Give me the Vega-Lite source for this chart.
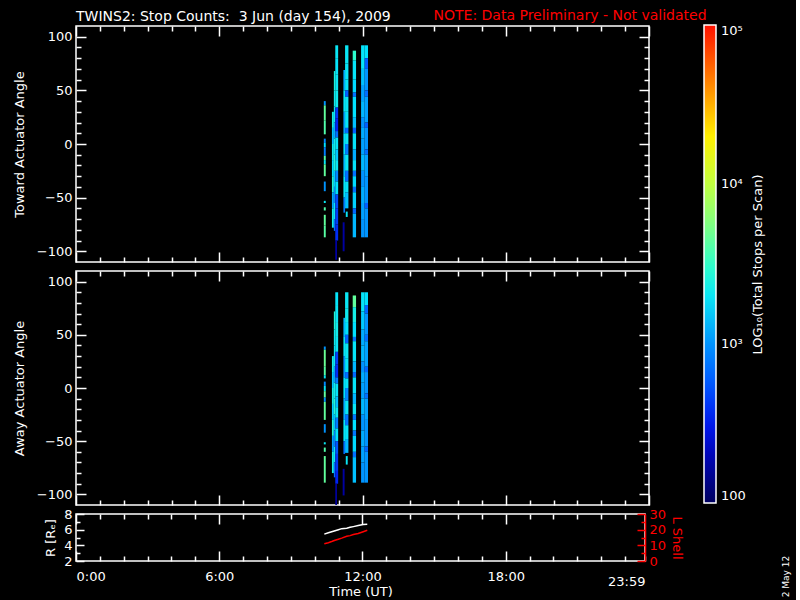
{
  "$schema": "https://vega.github.io/schema/vega-lite/v6.json",
  "background": "black",
  "padding": {"left": 12, "top": 7, "right": 5, "bottom": 2},
  "config": {
    "view": {"stroke": "white", "strokeWidth": 1.5},
    "axis": {
      "domain": false, "grid": false,
      "tickColor": "white", "tickWidth": 1.5,
      "labelColor": "white", "labelFont": "DejaVu Sans", "labelFontSize": 13,
      "titleColor": "white", "titleFont": "DejaVu Sans", "titleFontSize": 13, "titleFontWeight": "normal",
      "labelOverlap": false
    },
    "title": {"color": "white", "font": "DejaVu Sans", "fontSize": 14, "fontWeight": "normal"}
  },
  "datasets": {
    "toward": [
      {"t0":10.38,"t1":10.46,"a0":40,"a1":36,"v":1000},{"t0":10.38,"t1":10.46,"a0":36,"a1":22,"v":4500},{"t0":10.38,"t1":10.46,"a0":22,"a1":9,"v":4000},{"t0":10.38,"t1":10.46,"a0":5,"a1":1,"v":900},{"t0":10.38,"t1":10.46,"a0":1,"a1":-3,"v":1800},{"t0":10.38,"t1":10.46,"a0":-3,"a1":-11,"v":800},{"t0":10.38,"t1":10.46,"a0":-11,"a1":-15,"v":4200},{"t0":10.38,"t1":10.46,"a0":-15,"a1":-19,"v":2000},{"t0":10.38,"t1":10.46,"a0":-19,"a1":-30,"v":4500},{"t0":10.38,"t1":10.46,"a0":-35,"a1":-44,"v":1000},{"t0":10.38,"t1":10.46,"a0":-53,"a1":-55,"v":2000},{"t0":10.38,"t1":10.46,"a0":-59,"a1":-62,"v":4000},{"t0":10.38,"t1":10.46,"a0":-66,"a1":-76,"v":4500},{"t0":10.38,"t1":10.46,"a0":-76,"a1":-87,"v":4200},
      {"t0":10.72,"t1":10.80,"a0":30,"a1":15,"v":2300},{"t0":10.72,"t1":10.80,"a0":15,"a1":0,"v":1400},{"t0":10.72,"t1":10.80,"a0":0,"a1":-15,"v":2100},{"t0":10.72,"t1":10.80,"a0":-15,"a1":-30,"v":1800},{"t0":10.72,"t1":10.80,"a0":-30,"a1":-45,"v":2500},{"t0":10.72,"t1":10.80,"a0":-45,"a1":-60,"v":1200},{"t0":10.72,"t1":10.80,"a0":-60,"a1":-78,"v":2200},
      {"t0":10.80,"t1":10.86,"a0":68,"a1":50,"v":2500},{"t0":10.80,"t1":10.86,"a0":50,"a1":35,"v":2200},{"t0":10.80,"t1":10.86,"a0":35,"a1":20,"v":2000},{"t0":10.80,"t1":10.86,"a0":20,"a1":5,"v":1200},{"t0":10.80,"t1":10.86,"a0":5,"a1":-10,"v":2200},{"t0":10.80,"t1":10.86,"a0":-10,"a1":-25,"v":2600},{"t0":10.80,"t1":10.86,"a0":-25,"a1":-40,"v":1500},{"t0":10.80,"t1":10.86,"a0":-40,"a1":-55,"v":900},{"t0":10.80,"t1":10.86,"a0":-55,"a1":-70,"v":2000},{"t0":10.80,"t1":10.86,"a0":-70,"a1":-81,"v":700},
      {"t0":10.86,"t1":10.98,"a0":92,"a1":80,"v":2000},{"t0":10.86,"t1":10.98,"a0":80,"a1":65,"v":1900},{"t0":10.86,"t1":10.98,"a0":65,"a1":50,"v":2000},{"t0":10.86,"t1":10.98,"a0":50,"a1":34,"v":2100},{"t0":10.86,"t1":10.98,"a0":34,"a1":24,"v":420},{"t0":10.86,"t1":10.98,"a0":24,"a1":12,"v":350},{"t0":10.86,"t1":10.98,"a0":12,"a1":6,"v":700},{"t0":10.86,"t1":10.98,"a0":6,"a1":-5,"v":1900},{"t0":10.86,"t1":10.98,"a0":-5,"a1":-15,"v":1500},{"t0":10.86,"t1":10.98,"a0":-15,"a1":-25,"v":2000},{"t0":10.86,"t1":10.98,"a0":-25,"a1":-35,"v":900},{"t0":10.86,"t1":10.98,"a0":-35,"a1":-47,"v":1800},{"t0":10.86,"t1":10.98,"a0":-47,"a1":-60,"v":500},{"t0":10.86,"t1":10.98,"a0":-60,"a1":-75,"v":450},{"t0":10.86,"t1":10.98,"a0":-75,"a1":-90,"v":380},
      {"t0":10.86,"t1":10.93,"a0":-90,"a1":-108,"v":180},
      {"t0":11.17,"t1":11.25,"a0":-73,"a1":-100,"v":170},
      {"t0":11.20,"t1":11.27,"a0":69,"a1":50,"v":1200},{"t0":11.20,"t1":11.27,"a0":50,"a1":30,"v":1900},{"t0":11.20,"t1":11.27,"a0":30,"a1":10,"v":1100},{"t0":11.20,"t1":11.27,"a0":10,"a1":-10,"v":1800},{"t0":11.20,"t1":11.27,"a0":-10,"a1":-30,"v":1300},{"t0":11.20,"t1":11.27,"a0":-30,"a1":-50,"v":1900},{"t0":11.20,"t1":11.27,"a0":-50,"a1":-64,"v":800},
      {"t0":11.27,"t1":11.41,"a0":92,"a1":75,"v":2000},{"t0":11.27,"t1":11.41,"a0":75,"a1":60,"v":1950},{"t0":11.27,"t1":11.41,"a0":60,"a1":50,"v":1900},{"t0":11.27,"t1":11.41,"a0":50,"a1":44,"v":600},{"t0":11.27,"t1":11.41,"a0":44,"a1":30,"v":2000},{"t0":11.27,"t1":11.41,"a0":30,"a1":15,"v":1900},{"t0":11.27,"t1":11.41,"a0":15,"a1":10,"v":700},{"t0":11.27,"t1":11.41,"a0":10,"a1":0,"v":2000},{"t0":11.27,"t1":11.41,"a0":0,"a1":-10,"v":800},{"t0":11.27,"t1":11.41,"a0":-10,"a1":-25,"v":2000},{"t0":11.27,"t1":11.41,"a0":-25,"a1":-35,"v":700},{"t0":11.27,"t1":11.41,"a0":-35,"a1":-45,"v":1900},{"t0":11.27,"t1":11.41,"a0":-45,"a1":-60,"v":1400},
      {"t0":11.30,"t1":11.38,"a0":-63,"a1":-68,"v":2000},
      {"t0":11.59,"t1":11.73,"a0":87,"a1":78,"v":3000},{"t0":11.59,"t1":11.73,"a0":78,"a1":60,"v":1900},{"t0":11.59,"t1":11.73,"a0":60,"a1":48,"v":1700},{"t0":11.59,"t1":11.73,"a0":48,"a1":44,"v":700},{"t0":11.59,"t1":11.73,"a0":44,"a1":25,"v":1800},{"t0":11.59,"t1":11.73,"a0":25,"a1":15,"v":1400},{"t0":11.59,"t1":11.73,"a0":15,"a1":10,"v":600},{"t0":11.59,"t1":11.73,"a0":10,"a1":-5,"v":1900},{"t0":11.59,"t1":11.73,"a0":-5,"a1":-15,"v":1200},{"t0":11.59,"t1":11.73,"a0":-15,"a1":-25,"v":1900},{"t0":11.59,"t1":11.73,"a0":-25,"a1":-30,"v":700},{"t0":11.59,"t1":11.73,"a0":-30,"a1":-40,"v":1700},{"t0":11.59,"t1":11.73,"a0":-40,"a1":-45,"v":700},{"t0":11.59,"t1":11.73,"a0":-45,"a1":-60,"v":1600},{"t0":11.59,"t1":11.73,"a0":-60,"a1":-65,"v":650},{"t0":11.59,"t1":11.73,"a0":-65,"a1":-87,"v":1300},
      {"t0":11.94,"t1":12.09,"a0":92,"a1":70,"v":1900},{"t0":11.94,"t1":12.09,"a0":70,"a1":55,"v":1400},{"t0":11.94,"t1":12.09,"a0":55,"a1":40,"v":1100},{"t0":11.94,"t1":12.09,"a0":40,"a1":25,"v":1300},{"t0":11.94,"t1":12.09,"a0":25,"a1":15,"v":1000},{"t0":11.94,"t1":12.09,"a0":15,"a1":5,"v":1200},{"t0":11.94,"t1":12.09,"a0":5,"a1":-10,"v":1100},{"t0":11.94,"t1":12.09,"a0":-10,"a1":-25,"v":1300},{"t0":11.94,"t1":12.09,"a0":-25,"a1":-40,"v":1000},{"t0":11.94,"t1":12.09,"a0":-40,"a1":-55,"v":1200},{"t0":11.94,"t1":12.09,"a0":-55,"a1":-70,"v":1100},{"t0":11.94,"t1":12.09,"a0":-70,"a1":-87,"v":1000},
      {"t0":12.09,"t1":12.23,"a0":92,"a1":80,"v":1800},{"t0":12.09,"t1":12.23,"a0":80,"a1":70,"v":600},{"t0":12.09,"t1":12.23,"a0":70,"a1":50,"v":1000},{"t0":12.09,"t1":12.23,"a0":50,"a1":44,"v":700},{"t0":12.09,"t1":12.23,"a0":44,"a1":20,"v":1100},{"t0":12.09,"t1":12.23,"a0":20,"a1":15,"v":600},{"t0":12.09,"t1":12.23,"a0":15,"a1":-5,"v":1000},{"t0":12.09,"t1":12.23,"a0":-5,"a1":-10,"v":700},{"t0":12.09,"t1":12.23,"a0":-10,"a1":-30,"v":1100},{"t0":12.09,"t1":12.23,"a0":-30,"a1":-55,"v":1000},{"t0":12.09,"t1":12.23,"a0":-55,"a1":-60,"v":600},{"t0":12.09,"t1":12.23,"a0":-60,"a1":-87,"v":1000}
    ],
    "away": [
      {"t0":10.38,"t1":10.46,"a0":39,"a1":36,"v":1000},{"t0":10.38,"t1":10.46,"a0":36,"a1":20,"v":4800},{"t0":10.38,"t1":10.46,"a0":20,"a1":12,"v":4200},{"t0":10.38,"t1":10.46,"a0":12,"a1":9,"v":2000},{"t0":10.38,"t1":10.46,"a0":6,"a1":2,"v":900},{"t0":10.38,"t1":10.46,"a0":2,"a1":-3,"v":2000},{"t0":10.38,"t1":10.46,"a0":-3,"a1":-9,"v":4500},{"t0":10.38,"t1":10.46,"a0":-9,"a1":-13,"v":1000},{"t0":10.38,"t1":10.46,"a0":-13,"a1":-30,"v":4500},{"t0":10.38,"t1":10.46,"a0":-34,"a1":-42,"v":1000},{"t0":10.38,"t1":10.46,"a0":-51,"a1":-53,"v":2000},{"t0":10.38,"t1":10.46,"a0":-56,"a1":-60,"v":4000},{"t0":10.38,"t1":10.46,"a0":-64,"a1":-89,"v":4500},
      {"t0":10.72,"t1":10.80,"a0":30,"a1":15,"v":2200},{"t0":10.72,"t1":10.80,"a0":15,"a1":0,"v":1500},{"t0":10.72,"t1":10.80,"a0":0,"a1":-15,"v":2300},{"t0":10.72,"t1":10.80,"a0":-15,"a1":-30,"v":1600},{"t0":10.72,"t1":10.80,"a0":-30,"a1":-45,"v":2600},{"t0":10.72,"t1":10.80,"a0":-45,"a1":-60,"v":1100},{"t0":10.72,"t1":10.80,"a0":-60,"a1":-80,"v":2300},
      {"t0":10.80,"t1":10.86,"a0":72,"a1":55,"v":2700},{"t0":10.80,"t1":10.86,"a0":55,"a1":40,"v":2200},{"t0":10.80,"t1":10.86,"a0":40,"a1":20,"v":2000},{"t0":10.80,"t1":10.86,"a0":20,"a1":5,"v":1100},{"t0":10.80,"t1":10.86,"a0":5,"a1":-10,"v":2300},{"t0":10.80,"t1":10.86,"a0":-10,"a1":-25,"v":2700},{"t0":10.80,"t1":10.86,"a0":-25,"a1":-40,"v":1400},{"t0":10.80,"t1":10.86,"a0":-40,"a1":-55,"v":800},{"t0":10.80,"t1":10.86,"a0":-55,"a1":-70,"v":2000},{"t0":10.80,"t1":10.86,"a0":-70,"a1":-84,"v":700},
      {"t0":10.86,"t1":10.98,"a0":90,"a1":78,"v":1900},{"t0":10.86,"t1":10.98,"a0":78,"a1":62,"v":2000},{"t0":10.86,"t1":10.98,"a0":62,"a1":48,"v":2200},{"t0":10.86,"t1":10.98,"a0":48,"a1":34,"v":2000},{"t0":10.86,"t1":10.98,"a0":34,"a1":22,"v":450},{"t0":10.86,"t1":10.98,"a0":22,"a1":10,"v":380},{"t0":10.86,"t1":10.98,"a0":10,"a1":4,"v":800},{"t0":10.86,"t1":10.98,"a0":4,"a1":-8,"v":1900},{"t0":10.86,"t1":10.98,"a0":-8,"a1":-18,"v":1400},{"t0":10.86,"t1":10.98,"a0":-18,"a1":-28,"v":2000},{"t0":10.86,"t1":10.98,"a0":-28,"a1":-38,"v":800},{"t0":10.86,"t1":10.98,"a0":-38,"a1":-50,"v":1800},{"t0":10.86,"t1":10.98,"a0":-50,"a1":-62,"v":550},{"t0":10.86,"t1":10.98,"a0":-62,"a1":-78,"v":420},{"t0":10.86,"t1":10.98,"a0":-78,"a1":-90,"v":350},
      {"t0":10.86,"t1":10.93,"a0":-90,"a1":-110,"v":170},
      {"t0":11.17,"t1":11.25,"a0":-76,"a1":-101,"v":170},
      {"t0":11.20,"t1":11.27,"a0":66,"a1":48,"v":1300},{"t0":11.20,"t1":11.27,"a0":48,"a1":30,"v":1900},{"t0":11.20,"t1":11.27,"a0":30,"a1":10,"v":1000},{"t0":11.20,"t1":11.27,"a0":10,"a1":-10,"v":1800},{"t0":11.20,"t1":11.27,"a0":-10,"a1":-30,"v":1200},{"t0":11.20,"t1":11.27,"a0":-30,"a1":-50,"v":1900},{"t0":11.20,"t1":11.27,"a0":-50,"a1":-62,"v":700},
      {"t0":11.27,"t1":11.41,"a0":90,"a1":75,"v":2000},{"t0":11.27,"t1":11.41,"a0":75,"a1":62,"v":2100},{"t0":11.27,"t1":11.41,"a0":62,"a1":50,"v":1800},{"t0":11.27,"t1":11.41,"a0":50,"a1":42,"v":650},{"t0":11.27,"t1":11.41,"a0":42,"a1":28,"v":2000},{"t0":11.27,"t1":11.41,"a0":28,"a1":15,"v":1900},{"t0":11.27,"t1":11.41,"a0":15,"a1":9,"v":700},{"t0":11.27,"t1":11.41,"a0":9,"a1":0,"v":1900},{"t0":11.27,"t1":11.41,"a0":0,"a1":-12,"v":900},{"t0":11.27,"t1":11.41,"a0":-12,"a1":-25,"v":2000},{"t0":11.27,"t1":11.41,"a0":-25,"a1":-35,"v":750},{"t0":11.27,"t1":11.41,"a0":-35,"a1":-48,"v":1900},{"t0":11.27,"t1":11.41,"a0":-48,"a1":-61,"v":1300},
      {"t0":11.30,"t1":11.38,"a0":-64,"a1":-72,"v":2000},
      {"t0":11.59,"t1":11.73,"a0":87,"a1":76,"v":4500},{"t0":11.59,"t1":11.73,"a0":76,"a1":62,"v":2300},{"t0":11.59,"t1":11.73,"a0":62,"a1":48,"v":1800},{"t0":11.59,"t1":11.73,"a0":48,"a1":44,"v":750},{"t0":11.59,"t1":11.73,"a0":44,"a1":25,"v":1900},{"t0":11.59,"t1":11.73,"a0":25,"a1":15,"v":1300},{"t0":11.59,"t1":11.73,"a0":15,"a1":10,"v":650},{"t0":11.59,"t1":11.73,"a0":10,"a1":-5,"v":1900},{"t0":11.59,"t1":11.73,"a0":-5,"a1":-15,"v":1300},{"t0":11.59,"t1":11.73,"a0":-15,"a1":-25,"v":2000},{"t0":11.59,"t1":11.73,"a0":-25,"a1":-30,"v":750},{"t0":11.59,"t1":11.73,"a0":-30,"a1":-40,"v":1800},{"t0":11.59,"t1":11.73,"a0":-40,"a1":-45,"v":750},{"t0":11.59,"t1":11.73,"a0":-45,"a1":-60,"v":1700},{"t0":11.59,"t1":11.73,"a0":-60,"a1":-65,"v":700},{"t0":11.59,"t1":11.73,"a0":-65,"a1":-89,"v":1400},
      {"t0":11.94,"t1":12.09,"a0":90,"a1":72,"v":1900},{"t0":11.94,"t1":12.09,"a0":72,"a1":55,"v":1500},{"t0":11.94,"t1":12.09,"a0":55,"a1":40,"v":1200},{"t0":11.94,"t1":12.09,"a0":40,"a1":25,"v":1300},{"t0":11.94,"t1":12.09,"a0":25,"a1":15,"v":1000},{"t0":11.94,"t1":12.09,"a0":15,"a1":5,"v":1200},{"t0":11.94,"t1":12.09,"a0":5,"a1":-10,"v":1100},{"t0":11.94,"t1":12.09,"a0":-10,"a1":-25,"v":1300},{"t0":11.94,"t1":12.09,"a0":-25,"a1":-40,"v":1000},{"t0":11.94,"t1":12.09,"a0":-40,"a1":-55,"v":1200},{"t0":11.94,"t1":12.09,"a0":-55,"a1":-70,"v":1100},{"t0":11.94,"t1":12.09,"a0":-70,"a1":-89,"v":1000},
      {"t0":12.09,"t1":12.23,"a0":90,"a1":78,"v":1800},{"t0":12.09,"t1":12.23,"a0":78,"a1":70,"v":650},{"t0":12.09,"t1":12.23,"a0":70,"a1":50,"v":1000},{"t0":12.09,"t1":12.23,"a0":50,"a1":44,"v":700},{"t0":12.09,"t1":12.23,"a0":44,"a1":20,"v":1100},{"t0":12.09,"t1":12.23,"a0":20,"a1":15,"v":650},{"t0":12.09,"t1":12.23,"a0":15,"a1":-5,"v":1000},{"t0":12.09,"t1":12.23,"a0":-5,"a1":-10,"v":700},{"t0":12.09,"t1":12.23,"a0":-10,"a1":-30,"v":1100},{"t0":12.09,"t1":12.23,"a0":-30,"a1":-55,"v":1000},{"t0":12.09,"t1":12.23,"a0":-55,"a1":-60,"v":650},{"t0":12.09,"t1":12.23,"a0":-60,"a1":-89,"v":1000}
    ],
    "orbit": [
      {"t":10.40,"r":5.43,"l":11.0},{"t":10.57,"r":5.61,"l":11.7},{"t":10.71,"r":5.74,"l":12.4},{"t":10.85,"r":5.87,"l":13.2},{"t":10.99,"r":6.00,"l":13.9},{"t":11.13,"r":6.13,"l":14.6},{"t":11.34,"r":6.17,"l":15.8},{"t":11.48,"r":6.30,"l":16.2},{"t":11.62,"r":6.39,"l":16.9},{"t":11.82,"r":6.52,"l":17.6},{"t":12.03,"r":6.66,"l":18.7},{"t":12.20,"r":6.70,"l":19.6}
    ]
  },
  "spacing": 9,
  "bounds": "flush",
  "resolve": {"scale": {"color": "shared"}},
  "vconcat": [
    {
      "width": 573, "height": 236,
      "title": {"text": "TWINS2: Stop Counts:\u00a0 3 Jun (day 154), 2009", "anchor": "start", "frame": "group", "offset": -16},
      "data": {"name": "toward"},
      "layer": [
        {
          "mark": {"type": "rect"},
          "encoding": {
            "x": {"field": "t0", "type": "quantitative", "scale": {"domain": [0, 24], "nice": false},
                  "axis": {"orient": "bottom", "values": [0,1,2,3,4,5,6,7,8,9,10,11,12,13,14,15,16,17,18,19,20,21,22,23,24], "labels": false, "title": null,
                           "tickSize": {"condition": {"test": "datum.value % 6 === 0", "value": -10}, "value": -5}}},
            "x2": {"field": "t1"},
            "y": {"field": "a0", "type": "quantitative", "scale": {"domain": [-110, 110], "nice": false},
                  "axis": {"orient": "left", "values": [-100,-90,-80,-70,-60,-50,-40,-30,-20,-10,0,10,20,30,40,50,60,70,80,90,100],
                           "labelExpr": "datum.value % 50 === 0 ? datum.label : ''", "title": "Toward Actuator Angle", "labelPadding": 14, "titlePadding": 10,
                           "tickSize": {"condition": {"test": "datum.value % 50 === 0", "value": -10}, "value": -5}}},
            "y2": {"field": "a1"},
            "color": {"field": "v", "type": "quantitative",
                      "scale": {"type": "log", "domain": [100, 178, 316, 562, 1000, 1778, 3162, 5623, 10000, 17783, 31623, 56234, 100000],
                                "range": ["#000060", "#0000a8", "#0018f0", "#0058ff", "#0094ff", "#00e0ff", "#30ffc8", "#80ff80", "#c0ff40", "#ffff00", "#ffb000", "#ff6000", "#ff1000"],
                                "interpolate": "rgb"},
                      "legend": {"orient": "none", "legendX": 628, "legendY": -1, "direction": "vertical", "gradientLength": 478, "gradientThickness": 12,
                                 "gradientStrokeColor": "white", "gradientStrokeWidth": 1.5, "title": null, "values": [100, 1000, 10000, 100000],
                                 "labelExpr": "datum.value == 100 ? '100' : datum.value == 1000 ? '10³' : datum.value == 10000 ? '10⁴' : '10⁵'",
                                 "labelColor": "white", "labelFont": "DejaVu Sans", "labelFontSize": 13, "labelOffset": 5}}
          }
        },
        {
          "mark": {"type": "rect", "opacity": 0},
          "encoding": {
            "x": {"field": "t0", "type": "quantitative", "scale": {"domain": [0, 24], "nice": false},
                  "axis": {"orient": "top", "values": [0,1,2,3,4,5,6,7,8,9,10,11,12,13,14,15,16,17,18,19,20,21,22,23,24], "labels": false,
                           "tickSize": {"condition": {"test": "datum.value % 6 === 0", "value": -10}, "value": -5},
                           "title": "NOTE: Data Preliminary - Not validated", "titleColor": "#ff0000", "titleFontSize": 14,
                           "titleX": 357, "titleY": -7, "titleAlign": "left", "titleBaseline": "alphabetic", "titleAnchor": "start"}},
            "x2": {"field": "t1"},
            "y": {"field": "a0", "type": "quantitative", "scale": {"domain": [-110, 110], "nice": false},
                  "axis": {"orient": "right", "values": [-100,-90,-80,-70,-60,-50,-40,-30,-20,-10,0,10,20,30,40,50,60,70,80,90,100], "labels": false,
                           "tickSize": {"condition": {"test": "datum.value % 50 === 0", "value": -10}, "value": -5},
                           "title": "LOG₁₀(Total Stops per Scan)", "titleAngle": 270, "titleX": 108, "titleY": 238, "titleAlign": "center", "titleBaseline": "middle"}},
            "y2": {"field": "a1"}
          }
        }
      ],
      "resolve": {"axis": {"x": "independent", "y": "independent"}}
    },
    {
      "width": 573, "height": 234,
      "data": {"name": "away"},
      "layer": [
        {
          "mark": {"type": "rect"},
          "encoding": {
            "x": {"field": "t0", "type": "quantitative", "scale": {"domain": [0, 24], "nice": false},
                  "axis": {"orient": "bottom", "values": [0,1,2,3,4,5,6,7,8,9,10,11,12,13,14,15,16,17,18,19,20,21,22,23,24], "labels": false, "title": null,
                           "tickSize": {"condition": {"test": "datum.value % 6 === 0", "value": -10}, "value": -5}}},
            "x2": {"field": "t1"},
            "y": {"field": "a0", "type": "quantitative", "scale": {"domain": [-110, 110], "nice": false},
                  "axis": {"orient": "left", "values": [-100,-90,-80,-70,-60,-50,-40,-30,-20,-10,0,10,20,30,40,50,60,70,80,90,100],
                           "labelExpr": "datum.value % 50 === 0 ? datum.label : ''", "title": "Away Actuator Angle", "labelPadding": 14, "titlePadding": 10,
                           "tickSize": {"condition": {"test": "datum.value % 50 === 0", "value": -10}, "value": -5}}},
            "y2": {"field": "a1"},
            "color": {"field": "v", "type": "quantitative"}
          }
        },
        {
          "mark": {"type": "rect", "opacity": 0},
          "encoding": {
            "x": {"field": "t0", "type": "quantitative", "scale": {"domain": [0, 24], "nice": false},
                  "axis": {"orient": "top", "values": [0,1,2,3,4,5,6,7,8,9,10,11,12,13,14,15,16,17,18,19,20,21,22,23,24], "labels": false, "title": null,
                           "tickSize": {"condition": {"test": "datum.value % 6 === 0", "value": -10}, "value": -5}}},
            "x2": {"field": "t1"},
            "y": {"field": "a0", "type": "quantitative", "scale": {"domain": [-110, 110], "nice": false},
                  "axis": {"orient": "right", "values": [-100,-90,-80,-70,-60,-50,-40,-30,-20,-10,0,10,20,30,40,50,60,70,80,90,100], "labels": false, "title": null,
                           "tickSize": {"condition": {"test": "datum.value % 50 === 0", "value": -10}, "value": -5}}},
            "y2": {"field": "a1"}
          }
        }
      ],
      "resolve": {"axis": {"x": "independent", "y": "independent"}}
    },
    {
      "width": 569, "height": 47,
      "data": {"name": "orbit"},
      "layer": [
        {
          "mark": {"type": "line", "color": "white", "strokeWidth": 1.5},
          "encoding": {
            "x": {"field": "t", "type": "quantitative", "scale": {"domain": [0, 23.833], "nice": false},
                  "axis": {"orient": "bottom", "values": [0,1,2,3,4,5,6,7,8,9,10,11,12,13,14,15,16,17,18,19,20,21,22,23,23.833],
                           "labelExpr": "datum.value == 0 ? '0:00' : datum.value == 6 ? '6:00' : datum.value == 12 ? '12:00' : datum.value == 18 ? '18:00' : datum.value > 23.5 ? '23:59' : ''",
                           "labelFlush": true, "labelPadding": 19, "title": "Time (UT)", "titlePadding": -3,
                           "tickSize": {"condition": {"test": "datum.value % 6 === 0", "value": -10}, "value": -5}}},
            "y": {"field": "r", "type": "quantitative", "scale": {"domain": [2, 8], "nice": false},
                  "axis": {"orient": "left", "values": [2,3,4,5,6,7,8], "labelExpr": "datum.value % 2 === 0 ? datum.label : ''",
                           "title": "R [Rₑ]", "labelPadding": 12, "titlePadding": 6,
                           "tickSize": {"condition": {"test": "datum.value % 2 === 0", "value": -8}, "value": -4}}}
          }
        },
        {
          "mark": {"type": "line", "color": "#ff0000", "strokeWidth": 1.5},
          "encoding": {
            "x": {"field": "t", "type": "quantitative", "scale": {"domain": [0, 23.833], "nice": false},
                  "axis": {"orient": "top", "values": [0,1,2,3,4,5,6,7,8,9,10,11,12,13,14,15,16,17,18,19,20,21,22,23], "labels": false,
                           "tickSize": {"condition": {"test": "datum.value % 6 === 0", "value": -10}, "value": -5},
                           "title": "2 May 12", "titleFontSize": 9, "titleAngle": 270, "titleX": 709, "titleY": 62, "titleAlign": "center", "titleBaseline": "middle"}},
            "y": {"field": "l", "type": "quantitative", "scale": {"domain": [0, 30], "nice": false},
                  "axis": {"orient": "right", "values": [0,5,10,15,20,25,30], "labelExpr": "datum.value % 10 === 0 ? datum.label : ''",
                           "title": "L Shell", "domain": true, "domainColor": "#ff0000", "domainWidth": 1.5, "tickColor": "#ff0000", "labelColor": "#ff0000", "titleColor": "#ff0000",
                           "labelPadding": 12, "titlePadding": 4,
                           "tickSize": {"condition": {"test": "datum.value % 10 === 0", "value": -8}, "value": -4}}}
          }
        }
      ],
      "resolve": {"scale": {"y": "independent"}, "axis": {"x": "independent", "y": "independent"}}
    }
  ]
}
